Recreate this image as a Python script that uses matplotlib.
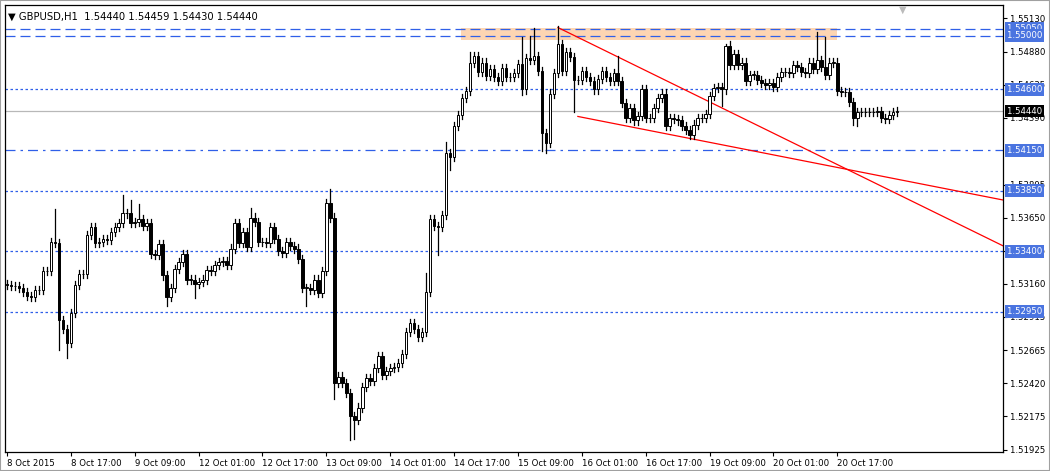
import matplotlib
matplotlib.use("Agg")
import matplotlib.pyplot as plt
from matplotlib.patches import Rectangle

closes = [
1.5315,1.5314,1.5314,1.5313,1.5310,1.5307,1.5306,1.5311,1.5311,1.5325,
1.5325,1.5347,1.5346,1.5289,1.5282,1.5272,1.5294,1.5315,1.5323,1.5323,
1.5352,1.5358,1.5346,1.5347,1.5349,1.5348,1.5354,1.5358,1.5361,1.5368,
1.5368,1.5361,1.5362,1.5364,1.5359,1.5361,1.5338,1.5337,1.5345,1.5322,
1.5306,1.5313,1.5327,1.5332,1.5338,1.5319,1.5319,1.5316,1.5317,1.5319,
1.5326,1.5325,1.5330,1.5332,1.5333,1.5330,1.5342,1.5361,1.5346,1.5354,
1.5343,1.5365,1.5362,1.5347,1.5347,1.5346,1.5358,1.5349,1.5340,1.5339,
1.5347,1.5344,1.5342,1.5334,1.5313,1.5313,1.5311,1.5319,1.5309,1.5325,
1.5376,1.5365,1.5242,1.5247,1.5242,1.5235,1.5218,1.5215,1.5224,1.5239,
1.5246,1.5244,1.5253,1.5262,1.5248,1.5251,1.5253,1.5254,1.5257,1.5264,
1.5280,1.5287,1.5282,1.5276,1.5280,1.5310,1.5364,1.5359,1.5358,1.5367,
1.5413,1.5410,1.5433,1.5441,1.5454,1.5459,1.5480,1.5485,1.5473,1.5480,
1.5470,1.5475,1.5469,1.5466,1.5476,1.5469,1.5469,1.5472,1.5479,1.5460,
1.5483,1.5482,1.5485,1.5474,1.5428,1.5420,1.5457,1.5472,1.5494,1.5474,
1.5488,1.5484,1.5467,1.5467,1.5474,1.5469,1.5466,1.5460,1.5468,1.5474,
1.5469,1.5466,1.5472,1.5466,1.5450,1.5439,1.5446,1.5437,1.5440,1.5460,
1.5439,1.5439,1.5446,1.5454,1.5457,1.5433,1.5439,1.5438,1.5437,1.5433,
1.5430,1.5426,1.5434,1.5439,1.5439,1.5442,1.5455,1.5461,1.5462,1.5460,
1.5492,1.5478,1.5486,1.5478,1.5480,1.5466,1.5471,1.5471,1.5467,1.5465,
1.5463,1.5465,1.5462,1.5469,1.5473,1.5473,1.5472,1.5478,1.5477,1.5473,
1.5472,1.5480,1.5475,1.5482,1.5477,1.5471,1.5480,1.5480,1.5459,1.5458,
1.5458,1.5451,1.5439,1.5443,1.5443,1.5443,1.5443,1.5443,1.5444,1.5439,
1.5438,1.5441,1.5443,1.5444]
first_open = 1.5316
# notable wick extremes
high_marks = {12: 1.5371, 29: 1.5382, 31: 1.5378, 33: 1.5375, 61: 1.5372, 81: 1.5386,
              105: 1.5324, 110: 1.5421, 116: 1.5488, 129: 1.5499, 131: 1.5500,
              132: 1.5506, 138: 1.5507, 153: 1.5485, 180: 1.5494, 181: 1.5496,
              203: 1.5503, 205: 1.5499}
low_marks = {13: 1.5267, 15: 1.5261, 40: 1.5299, 47: 1.5305, 75: 1.5299, 82: 1.5230,
             86: 1.5200, 87: 1.5201, 108: 1.5337, 111: 1.5400, 129: 1.5456,
             134: 1.5414, 135: 1.5413, 142: 1.5443, 179: 1.5448, 212: 1.5434, 213: 1.5433}
wick = 0.0003

xlabels = ["8 Oct 2015", "8 Oct 17:00", "9 Oct 09:00", "12 Oct 01:00", "12 Oct 17:00",
           "13 Oct 09:00", "14 Oct 01:00", "14 Oct 17:00", "15 Oct 09:00", "16 Oct 01:00",
           "16 Oct 17:00", "19 Oct 09:00", "20 Oct 01:00", "20 Oct 17:00"]
yticks = [1.55130, 1.54880, 1.54635, 1.54390, 1.53895, 1.53650, 1.53405,
          1.53160, 1.52915, 1.52665, 1.52420, 1.52175, 1.51925]
levels = [1.55050, 1.55000, 1.54600, 1.54150, 1.53850, 1.53400, 1.52950]
level_styles = [(0, (8, 4)), (0, (8, 4)), (0, (2, 2)), (0, (8, 4, 2, 4)), (0, (2, 2)), (0, (2, 2)), (0, (2, 2))]
current = 1.54440
zone = (113.75, 208.0, 1.5497, 1.5506)
line1 = ((138, 1.5506), (249.5, 1.5344))
line2 = ((143, 1.5440), (249.5, 1.5378))

fk = dict(fontsize=6.8, fontstretch="condensed", family="DejaVu Sans")

fig = plt.figure(figsize=(10.5, 4.71), dpi=100)
ax = fig.add_axes([5/1050, 19/471, 998/1050, 447/471])
blue = "#2f5fe8"
ax.add_patch(Rectangle((zone[0], zone[2]), zone[1]-zone[0], zone[3]-zone[2],
                       facecolor="#fdd5b2", edgecolor="none", zorder=0))
for lv, ls in zip(levels, level_styles):
    ax.axhline(lv, color=blue, lw=0.9, linestyle=ls, zorder=1)
ax.axhline(current, color="#b8b8b8", lw=0.9, zorder=1)
for (p0, p1) in (line1, line2):
    ax.plot([p0[0], p1[0]], [p0[1], p1[1]], color="red", lw=0.9, zorder=2)

opens = [first_open] + closes[:-1]
for i, (o, c) in enumerate(zip(opens, closes)):
    top, bot = max(o, c), min(o, c)
    h = high_marks.get(i, top + wick)
    l = low_marks.get(i, bot - wick)
    ax.plot([i, i], [l, h], color="black", lw=0.9, zorder=3)
    hgt = max(top - bot, 0.00002)
    fc = "black" if c < o else "white"
    ax.add_patch(Rectangle((i-0.32, bot), 0.64, hgt, facecolor=fc, edgecolor="black", lw=0.7, zorder=4))

ax.set_xlim(-0.5, 249.5)
ax.set_ylim(1.51910, 1.55227)
ax.yaxis.tick_right()
ax.set_yticks(yticks)
ax.set_yticklabels([f"{v:.5f}" for v in yticks], **fk)
ax.set_xticks(range(0, 16*len(xlabels), 16))
ax.set_xticklabels(xlabels, ha="left", **fk)
ax.tick_params(axis="both", length=3, width=0.8, pad=2)
for s in ax.spines.values():
    s.set_linewidth(0.9)

for lv in levels:
    ax.text(1.004, lv, f"{lv:.5f}", transform=ax.get_yaxis_transform(), **fk,
            color="white", va="center", ha="left",
            bbox=dict(boxstyle="square,pad=0.2", facecolor="#4a74e0", edgecolor="none"), zorder=10, clip_on=False)
ax.text(1.004, current, f"{current:.5f}", transform=ax.get_yaxis_transform(), **fk,
        color="white", va="center", ha="left",
        bbox=dict(boxstyle="square,pad=0.2", facecolor="black", edgecolor="none"), zorder=10, clip_on=False)

ax.text(0.003, 0.985, "▼ GBPUSD,H1  1.54440 1.54459 1.54430 1.54440", transform=ax.transAxes,
        va="top", ha="left", fontsize=7.2, family="DejaVu Sans")
ax.text(0.9, 1.0, "▼", transform=ax.transAxes, fontsize=7, color="#bbbbbb", va="top", ha="center")
fig.patches.append(Rectangle((0, 0), 1, 1, transform=fig.transFigure, fill=False, edgecolor="#a0a0a0", lw=1.5))
fig.savefig("out.png", dpi=100)
